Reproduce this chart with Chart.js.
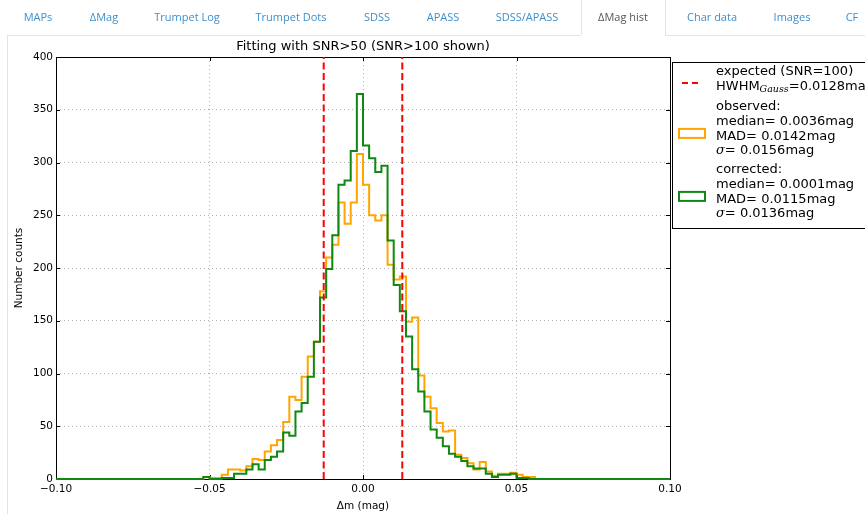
<!DOCTYPE html>
<html>
<head>
<meta charset="utf-8">
<script src="https://cdn.jsdelivr.net/npm/chart.js@4.4.1/dist/chart.umd.min.js"></script>
<style>
  body { margin: 0; width: 865px; height: 514px; overflow: hidden; background: #fff; }
  #chart { position: absolute; left: 0; top: 0; }
  #tabs { position: absolute; left: 0; top: 0; width: 865px; height: 36px; font-family: "Open Sans", sans-serif; font-size: 11px; }
  .tab { position: absolute; top: 10px; line-height: 14px; color: #3d8fcc; transform: translateX(-50%); white-space: nowrap; }
  .tab.on { color: #555; }
  .line { position: absolute; background: #e4e4e4; }
</style>
</head>
<body>
<canvas id="chart" width="865" height="514"></canvas>
<div id="tabs">
  <div class="line" style="left:7px; top:35px; width:574px; height:1px"></div>
  <div class="line" style="left:665px; top:35px; width:200px; height:1px"></div>
  <div class="line" style="left:581px; top:0; width:1px; height:35px"></div>
  <div class="line" style="left:665px; top:0; width:1px; height:35px"></div>
  <div class="line" style="left:7px; top:35px; width:1px; height:479px"></div>
  <span class="tab" style="left:38px">MAPs</span>
  <span class="tab" style="left:104px">ΔMag</span>
  <span class="tab" style="left:187px">Trumpet Log</span>
  <span class="tab" style="left:291px">Trumpet Dots</span>
  <span class="tab" style="left:377px">SDSS</span>
  <span class="tab" style="left:443px">APASS</span>
  <span class="tab" style="left:527px">SDSS/APASS</span>
  <span class="tab on" style="left:623px">ΔMag hist</span>
  <span class="tab" style="left:712px">Char data</span>
  <span class="tab" style="left:792px">Images</span>
  <span class="tab" style="left:852px">CF</span>
</div>
<script>
// histogram bins: 100 bins of 0.002 mag from -0.10 to 0.10
const binStart = -0.10;
const binWidth = 0.002;

const observedCounts = [
  0, 0, 0, 0, 0, 0, 0, 0, 0, 0,
  0, 0, 0, 0, 0, 0, 0, 0, 0, 0,
  0, 0, 0, 0, 2, 1, 1, 4, 9, 9,
  8, 12, 19, 18, 26, 32, 37, 54, 78, 75,
  97, 116, 130, 178, 210, 222, 262, 242, 262, 308,
  279, 250, 245, 250, 203, 189, 192, 149, 153, 98,
  78, 67, 53, 45, 46, 23, 20, 15, 9, 16,
  7, 3, 5, 5, 6, 4, 2, 2, 0, 0,
  0, 0, 0, 0, 0, 0, 0, 0, 0, 0,
  0, 0, 0, 0, 0, 0, 0, 0, 0, 0
];
const correctedCounts = [
  0, 0, 0, 0, 0, 0, 0, 0, 0, 0,
  0, 0, 0, 0, 0, 0, 0, 0, 0, 0,
  0, 0, 0, 0, 2, 0, 0, 1, 1, 5,
  5, 9, 14, 9, 18, 21, 26, 44, 41, 64,
  72, 97, 130, 172, 199, 231, 279, 283, 311, 365,
  316, 304, 291, 297, 226, 184, 159, 135, 104, 83,
  64, 47, 39, 31, 24, 21, 17, 12, 10, 10,
  5, 2, 4, 4, 5, 1, 1, 0, 0, 0,
  0, 0, 0, 0, 0, 0, 0, 0, 0, 0,
  0, 0, 0, 0, 0, 0, 0, 0, 0, 0
];

const hwhm = 0.0128;
const observedStats = [0.0036, 0.0142, 0.0156];   // median, MAD, sigma
const correctedStats = [0.0001, 0.0115, 0.0136];

const xTicks = [-0.10, -0.05, 0.00, 0.05, 0.10];
const yTicks = [0, 50, 100, 150, 200, 250, 300, 350, 400];

const SANS = '"DejaVu Sans", sans-serif';
const SERIF = '"DejaVu Serif", serif';

// step outline: a point at every left bin edge plus the closing right edge
const toSteps = counts => {
  const pts = counts.map((c, i) => ({ x: binStart + i * binWidth, y: c }));
  pts.push({ x: binStart + counts.length * binWidth, y: 0 });
  return pts;
};

const minus = v => (v < 0 ? '\u2212' : '') + Math.abs(v).toFixed(2);

// frame with inward ticks on all four sides (classic matplotlib look)
const framePlugin = {
  id: 'frame',
  beforeDatasetsDraw(chart) {
    const { ctx, chartArea: a, scales } = chart;
    ctx.save();
    ctx.strokeStyle = '#000';
    ctx.lineWidth = 1;
    ctx.beginPath();
    scales.x.ticks.forEach(t => {
      const px = Math.round(scales.x.getPixelForValue(t.value)) + 0.5;
      ctx.moveTo(px, a.bottom); ctx.lineTo(px, a.bottom - 4);
      ctx.moveTo(px, a.top); ctx.lineTo(px, a.top + 4);
    });
    scales.y.ticks.forEach(t => {
      const py = Math.round(scales.y.getPixelForValue(t.value)) + 0.5;
      ctx.moveTo(a.left, py); ctx.lineTo(a.left + 4, py);
      ctx.moveTo(a.right, py); ctx.lineTo(a.right - 4, py);
    });
    ctx.stroke();
    ctx.strokeRect(Math.round(a.left) + 0.5, Math.round(a.top) + 0.5,
      Math.round(a.right - a.left), Math.round(a.bottom - a.top));
    ctx.restore();
  },
  afterDraw(chart) {
    const { ctx, chartArea: a } = chart;
    ctx.save();
    ctx.fillStyle = '#000';
    ctx.font = '13px ' + SANS;
    ctx.textAlign = 'center';
    ctx.textBaseline = 'middle';
    ctx.fillText('Fitting with SNR>50 (SNR>100 shown)', (a.left + a.right) / 2, 47);
    ctx.restore();
  }
};

// legend box at the right, partly cut by the page edge
const legendPlugin = {
  id: 'sideLegend',
  afterDraw(chart) {
    const ctx = chart.ctx;
    const ds = chart.data.datasets;
    const left = 672, top = 62, tx = 716, lh = 14.6;
    ctx.save();
    ctx.fillStyle = '#fff';
    ctx.fillRect(left, top, 200, 166);
    ctx.strokeStyle = '#000';
    ctx.lineWidth = 1;
    ctx.strokeRect(left + 0.5, top + 0.5, 200, 166);
    ctx.textBaseline = 'middle';
    ctx.fillStyle = '#000';

    const put = (parts, y) => {
      let x = tx;
      parts.forEach(([txt, font, dy]) => {
        ctx.font = font;
        ctx.fillText(txt, x, y + (dy || 0));
        x += ctx.measureText(txt).width;
      });
    };
    const stat = (v) => ' ' + v.toFixed(4) + 'mag';

    // expected
    let y = 72;
    ctx.strokeStyle = ds[2].borderColor;
    ctx.lineWidth = 2;
    ctx.setLineDash([6, 4]);
    ctx.beginPath();
    ctx.moveTo(682, y + 11); ctx.lineTo(699, y + 11);
    ctx.stroke();
    ctx.setLineDash([]);
    put([['expected (SNR=100)', '13px ' + SANS]], y);
    put([['HWHM', '13px ' + SANS], ['Gauss', 'italic 9.5px ' + SERIF, 3],
         ['=' + hwhm.toFixed(4) + 'mag', '13px ' + SANS]], y + lh);

    const block = (label, stats, color, y0) => {
      ctx.strokeStyle = color;
      ctx.lineWidth = 2;
      ctx.strokeRect(679, y0 + 1.5 * lh, 26, 9);
      put([[label, '13px ' + SANS]], y0);
      put([['median=' + stat(stats[0]), '13px ' + SANS]], y0 + lh);
      put([['MAD=' + stat(stats[1]), '13px ' + SANS]], y0 + 2 * lh);
      put([['\u03c3', 'italic 13px ' + SERIF], ['=' + stat(stats[2]), '13px ' + SANS]], y0 + 3 * lh);
    };
    block('observed:', observedStats, ds[1].borderColor, 107);
    block('corrected:', correctedStats, ds[0].borderColor, 170);
    ctx.restore();
  }
};

const gridStyle = { color: '#b0b0b0', lineWidth: 1, drawTicks: false };
const gridBorder = { display: false, dash: [1, 3] };

new Chart(document.getElementById('chart'), {
  type: 'line',
  data: {
    datasets: [
      {
        label: 'corrected',
        data: toSteps(correctedCounts),
        borderColor: '#118811',
        borderWidth: 2,
        stepped: 'before',
        pointRadius: 0,
        fill: false,
        clip: 3,
        order: 2
      },
      {
        label: 'observed',
        data: toSteps(observedCounts),
        borderColor: '#ffa500',
        borderWidth: 2,
        stepped: 'before',
        pointRadius: 0,
        fill: false,
        clip: 3,
        order: 3
      },
      {
        label: 'expected low',
        data: [{ x: -hwhm, y: 0 }, { x: -hwhm, y: 400 }],
        borderColor: '#ff0000',
        borderWidth: 2,
        borderDash: [7, 3.5],
        pointRadius: 0,
        order: 1
      },
      {
        label: 'expected high',
        data: [{ x: hwhm, y: 0 }, { x: hwhm, y: 400 }],
        borderColor: '#ff0000',
        borderWidth: 2,
        borderDash: [7, 3.5],
        pointRadius: 0,
        order: 1
      }
    ]
  },
  options: {
    responsive: false,
    animation: false,
    layout: { padding: { top: 57, right: 195, left: 0, bottom: 0 } },
    plugins: {
      legend: { display: false },
      tooltip: { enabled: false }
    },
    scales: {
      x: {
        type: 'linear',
        min: -0.10,
        max: 0.10,
        afterBuildTicks: s => { s.ticks = xTicks.map(v => ({ value: v })); },
        afterFit: s => { s.height = 35; },
        grid: gridStyle,
        border: gridBorder,
        ticks: {
          padding: 4,
          color: '#000',
          font: { family: SANS, size: 10.5 },
          maxRotation: 0,
          callback: v => minus(v)
        },
        title: {
          display: true,
          text: 'Δm (mag)',
          color: '#000',
          font: { family: SANS, size: 10.5 },
          padding: { top: 0, bottom: 1 }
        }
      },
      y: {
        min: 0,
        max: 400,
        afterBuildTicks: s => { s.ticks = yTicks.map(v => ({ value: v })); },
        afterFit: s => { s.width = 56; },
        grid: gridStyle,
        border: gridBorder,
        ticks: {
          padding: 3,
          color: '#000',
          font: { family: SANS, size: 10.5 }
        },
        title: {
          display: true,
          text: 'Number counts',
          color: '#000',
          font: { family: SANS, size: 10.5 },
          padding: { top: 13, bottom: 0 }
        }
      }
    }
  },
  plugins: [framePlugin, legendPlugin]
});
</script>
</body>
</html>
